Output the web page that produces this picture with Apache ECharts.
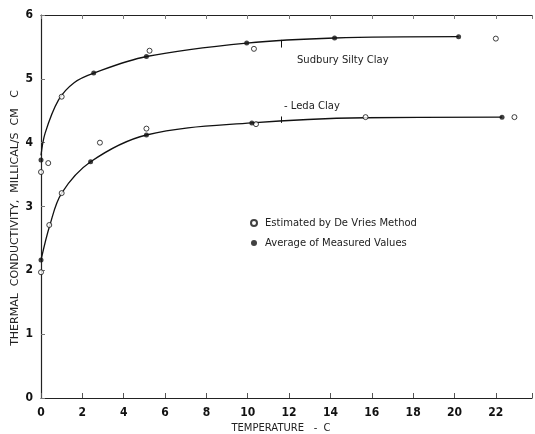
<!DOCTYPE html>
<html>
    <head>
        <meta charset="utf-8">
        <title>Thermal conductivity</title>
        <script src="https://cdn.jsdelivr.net/npm/echarts@6/dist/echarts.min.js"></script>
        <style>
            html, body { margin: 0; padding: 0; background: #fff; }
            #chart1 { width: 535px; height: 434px; }
        </style>
    </head>
    <body>
        <div id="chart1"></div>
    </body>

    <script type="text/javascript">
        // values: [temperature, conductivity]
        var sudburyEstimated = [[0, 3.54], [0.35, 3.68], [1.0, 4.72], [5.25, 5.44], [10.3, 5.47], [22.0, 5.63]];
        var sudburyMeasured = [[0, 3.73], [2.55, 5.09], [5.1, 5.35], [9.95, 5.56], [14.2, 5.64], [20.2, 5.66]];
        var sudburyCurve = [[0, 3.8], [0.2, 4.15], [0.85, 4.67], [1.6, 4.94], [2.55, 5.09], [5.1, 5.35], [9.95, 5.56], [14.2, 5.64], [20.2, 5.66]];

        var ledaEstimated = [[0, 1.97], [0.4, 2.71], [1.0, 3.21], [2.85, 4.0], [5.1, 4.22], [10.4, 4.29], [15.7, 4.4], [22.9, 4.4]];
        var ledaMeasured = [[0, 2.16], [2.4, 3.7], [5.1, 4.12], [10.2, 4.31], [22.3, 4.4]];
        var ledaCurve = [[0, 2.16], [0.43, 2.71], [1.0, 3.21], [2.4, 3.7], [5.1, 4.12], [10.2, 4.31], [15.7, 4.39], [22.3, 4.4]];

        var xTicks = [0, 2, 4, 6, 8, 10, 12, 14, 16, 18, 20, 22];
        var yTicks = [0, 1, 2, 3, 4, 5, 6];

        var legendOpen = 'Estimated by De Vries Method';
        var legendFilled = 'Average of Measured Values';

        var myChart1 = echarts.init(document.getElementById('chart1'));

        var tickFont = { fontFamily: 'DejaVu Sans Condensed', fontWeight: 'bold', fontSize: 12, color: '#111' };
        var openStyle = { color: '#fff', borderColor: '#111', borderWidth: 1 };
        var filledStyle = { color: '#111' };
        var labelFont = { fontSize: 10, fontFamily: 'DejaVu Sans', fill: '#222' };

        myChart1.setOption({
            animation: false,
            backgroundColor: '#fff',
            textStyle: { fontFamily: 'DejaVu Sans' },
            grid: { left: 41, right: 0, top: 15, bottom: 36 },
            legend: {
                data: [legendOpen, legendFilled],
                orient: 'vertical',
                left: 245,
                top: 213,
                itemWidth: 6,
                itemHeight: 6,
                itemGap: 10,
                textStyle: { fontSize: 10, color: '#222', padding: [0, 0, 0, 3] }
            },
            xAxis: [{
                type: 'value',
                min: 0,
                max: 23.75,
                interval: 2,
                position: 'bottom',
                axisLine: { lineStyle: { color: '#222', width: 1.2 } },
                axisTick: { inside: true, length: 5, lineStyle: { color: '#555' } },
                axisLabel: Object.assign({
                    margin: 9,
                    formatter: function (v) { return xTicks.indexOf(v) >= 0 ? String(v) : ''; }
                }, tickFont),
                splitLine: { show: false }
            }, {
                type: 'value',
                min: 0,
                max: 23.75,
                interval: 2,
                position: 'top',
                axisLine: { onZero: false, lineStyle: { color: '#222', width: 1.2 } },
                axisTick: { inside: true, length: 4, lineStyle: { color: '#777' } },
                axisLabel: { show: false },
                splitLine: { show: false }
            }],
            yAxis: {
                type: 'value',
                min: 0,
                max: 6,
                interval: 1,
                axisLine: { show: true, lineStyle: { color: '#222', width: 1.2 } },
                axisTick: { show: true, inside: true, length: 4, lineStyle: { color: '#777' } },
                axisLabel: Object.assign({
                    margin: 8,
                    formatter: function (v) { return yTicks.indexOf(v) >= 0 ? String(v) : ''; }
                }, tickFont),
                splitLine: { show: false }
            },
            graphic: [{
                type: 'text',
                left: 297,
                top: 55,
                style: Object.assign({ text: 'Sudbury Silty Clay' }, labelFont)
            }, {
                type: 'text',
                left: 284,
                top: 101,
                style: Object.assign({ text: '- Leda Clay' }, labelFont)
            }, {
                type: 'text',
                x: 281,
                y: 428,
                style: Object.assign({ text: 'TEMPERATURE   -  C', align: 'center', verticalAlign: 'middle' }, labelFont)
            }, {
                type: 'text',
                x: 15,
                y: 218,
                rotation: Math.PI / 2,
                style: Object.assign({ text: 'THERMAL  CONDUCTIVITY,  MILLICAL/S  CM   C', align: 'center', verticalAlign: 'middle' }, labelFont, { fontSize: 11 })
            }],
            series: [{
                name: 'Sudbury curve',
                type: 'line',
                data: sudburyCurve,
                smooth: 0.35,
                showSymbol: false,
                lineStyle: { color: '#111', width: 1.3 },
                markLine: {
                    silent: true,
                    symbol: 'none',
                    label: { show: false },
                    lineStyle: { color: '#111', width: 1, type: 'solid' },
                    data: [[{ coord: [11.6, 5.61] }, { coord: [11.6, 5.49] }]]
                }
            }, {
                name: 'Leda curve',
                type: 'line',
                data: ledaCurve,
                smooth: 0.35,
                showSymbol: false,
                lineStyle: { color: '#111', width: 1.3 },
                markLine: {
                    silent: true,
                    symbol: 'none',
                    label: { show: false },
                    lineStyle: { color: '#111', width: 1, type: 'solid' },
                    data: [[{ coord: [11.6, 4.41] }, { coord: [11.6, 4.31] }]]
                }
            }, {
                name: legendOpen,
                type: 'scatter',
                data: sudburyEstimated.concat(ledaEstimated),
                symbol: 'circle',
                symbolSize: 5,
                itemStyle: openStyle,
                z: 5
            }, {
                name: legendFilled,
                type: 'scatter',
                data: sudburyMeasured.concat(ledaMeasured),
                symbol: 'circle',
                symbolSize: 5,
                itemStyle: filledStyle,
                z: 6
            }]
        });
    </script>
</html>
